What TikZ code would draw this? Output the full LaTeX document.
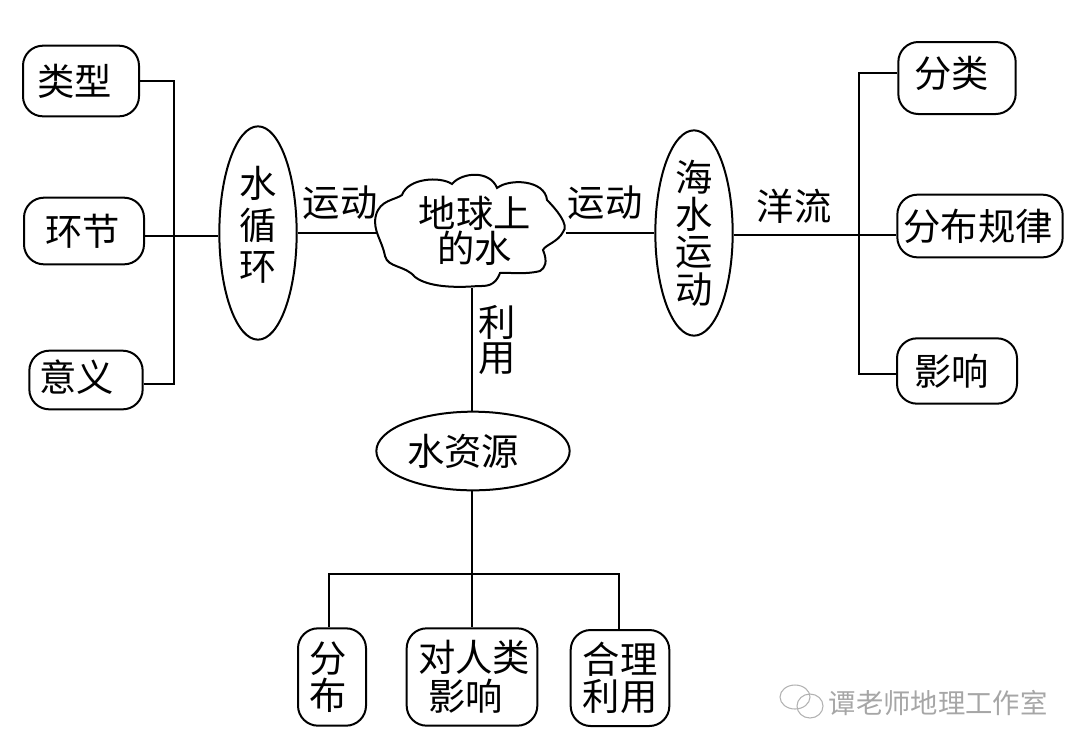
\documentclass[tikz,border=0pt]{standalone}
\usepackage{fontspec}
\setmainfont{Noto Sans CJK SC}
\usetikzlibrary{shapes.geometric, positioning}
\newcommand{\shifted}[3]{\raisebox{#2}{\hspace*{#1}#3\hspace*{-#1}}}
\tikzset{
  label/.style={font=\fontsize{28}{28}\selectfont, align=center, inner sep=0pt},
  roundbox/.style={label, draw, line width=1.5pt, rounded corners=15pt},
  oval/.style={label, draw, line width=1.5pt, ellipse},
  link/.style={line width=1.5pt}
}
\begin{document}
\begin{tikzpicture}[x=0.75pt, y=-0.75pt]
  \useasboundingbox (0,0) rectangle (1080,751);
  % left side
  \node[roundbox, minimum width=87pt, minimum height=53pt] (leixing) at (81,81) {\shifted{-5pt}{0pt}{类型}};
  \node[roundbox, minimum width=90pt, minimum height=50pt] (huanjie) at (84,231) {\shifted{-1pt}{0pt}{环节}};
  \node[roundbox, minimum width=85pt, minimum height=44pt] (yiyi) at (86,380) {\shifted{-7pt}{6pt}{意义}};
  \node[oval, font=\fontsize{28}{31}\selectfont, inner ysep=-8pt, minimum width=58pt, minimum height=160pt] (xunhuan) at (258,233) {水\\循\\环\rule[-14pt]{0pt}{1pt}};
  \coordinate (leftbar) at (174,236);
  \draw[link] (leixing.east |- 0,81) -| (leftbar);
  \draw[link] (yiyi.east |- 0,384) -| (leftbar);
  \draw[link] (huanjie.east |- 0,236) -- (xunhuan.west |- 0,236);
  % centre
  \node[label, font=\fontsize{28}{26}\selectfont, minimum width=140pt, minimum height=85pt] (diqiu) at (472,231) {\shifted{2pt}{0pt}{地球上}\\\shifted{2pt}{0pt}{的水}};
  \draw[link] (376,215) .. controls (380,200) and (395,200) .. (402,195)
    .. controls (408,178) and (440,176) .. (452,184)
    .. controls (462,172) and (490,170) .. (497,188)
    .. controls (510,178) and (545,180) .. (547,200)
    .. controls (555,208) and (570,225) .. (563,232)
    .. controls (558,242) and (545,245) .. (543,250)
    .. controls (548,262) and (545,268) .. (540,271)
    .. controls (525,275) and (505,272) .. (500,273)
    .. controls (495,287) and (485,286) .. (478,286)
    .. controls (455,288) and (428,287) .. (415,277)
    .. controls (405,265) and (388,268) .. (385,256)
    .. controls (382,240) and (372,230) .. (376,215) -- cycle;
  \draw[link] (xunhuan.east) -- (diqiu.west |- xunhuan.east);
  \node[label] (yundongl) at (340,203) {运动};
  % right side
  \node[oval, inner ysep=-18pt, minimum width=58pt, minimum height=154pt] (haishui) at (694,233) {海\\水\\运\\动};
  \draw[link] (diqiu.east |- haishui.west) -- (haishui.west);
  \node[label] (yundongr) at (605,203) {运动};
  \node[roundbox, minimum width=88pt, minimum height=54pt] (fenlei) at (957,78) {\shifted{-4pt}{9pt}{分类}};
  \node[roundbox, minimum width=124pt, minimum height=47pt] (guilv) at (980,226) {\shifted{-1.5pt}{0pt}{分布规律}};
  \node[roundbox, minimum width=90pt, minimum height=49pt] (yingxiang) at (957,371) {\shifted{-4pt}{0pt}{影响}};
  \coordinate (rightbar) at (859,235);
  \draw[link] (haishui.east |- 0,235) -- (guilv.west |- 0,235);
  \draw[link] (fenlei.west |- 0,73) -| (rightbar);
  \draw[link] (yingxiang.west |- 0,374) -| (rightbar);
  \node[label] (yangliu) at (794,206) {洋流};
  % bottom
  \node[oval, minimum width=145pt, minimum height=59pt] (ziyuan) at (473,451) {\shifted{-7.5pt}{-6pt}{水资源}};
  \draw[link] (472,0 |- diqiu.south) -- (472,0 |- ziyuan.north);
  \node[label, font=\fontsize{28}{26}\selectfont] (liyong) at (497,340) {利\\用};
  \node[roundbox, minimum width=51pt, minimum height=73pt] (fenbu) at (332,677) {\shifted{-3pt}{0pt}{分}\\\shifted{-3pt}{0pt}{布}};
  \node[roundbox, minimum width=98pt, minimum height=73pt] (duiren) at (472,677) {\shifted{1.5pt}{0pt}{对人类}\\\shifted{-5pt}{-1pt}{影响}};
  \node[roundbox, minimum width=74pt, minimum height=72pt] (heli) at (620,678) {合理\\利用};
  \coordinate (bottombar) at (472,574);
  \draw[link] (472,0 |- ziyuan.south) -- (472,0 |- duiren.north);
  \draw[link] (bottombar) -| (329,0 |- fenbu.north);
  \draw[link] (bottombar) -| (619,0 |- heli.north);
  % watermark
  \node[font=\fontsize{20.5}{24}\selectfont, text=black!35, inner sep=0pt] (mark) at (938,703) {谭老师地理工作室};
  \draw[black!30, line width=0.8pt] (795,697) ellipse (15 and 12) (810,706) ellipse (13 and 12);
\end{tikzpicture}
\end{document}
